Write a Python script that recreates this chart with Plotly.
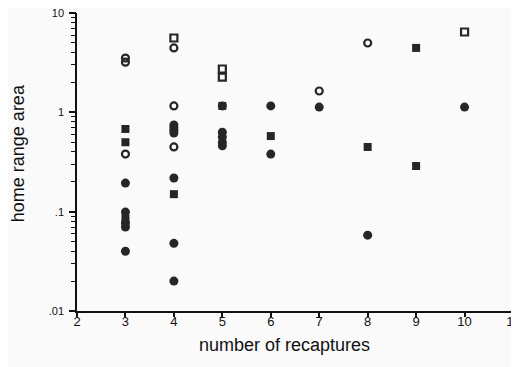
import plotly.graph_objects as go

# Data (x = number of recaptures, y = home range area)
filled_circle_x = [3, 3, 3, 3, 3, 4, 4, 4, 4, 4, 4, 4, 5, 5, 5, 5, 5, 6, 6, 7, 8, 10]
filled_circle_y = [0.194, 0.099, 0.077, 0.070, 0.040,
                   0.745, 0.70, 0.66, 0.62, 0.218, 0.048, 0.020,
                   1.16, 0.63, 0.565, 0.50, 0.46,
                   1.16, 0.38, 1.13, 0.058, 1.13]

open_circle_x = [3, 3, 3, 4, 4, 4, 7, 8]
open_circle_y = [3.52, 3.2, 0.38, 4.45, 1.16, 0.448, 1.64, 4.99]

filled_square_x = [3, 3, 3, 4, 5, 6, 8, 9, 9]
filled_square_y = [0.68, 0.50, 0.085, 0.150, 1.16, 0.577, 0.448, 4.45, 0.288]

open_square_x = [4, 5, 5, 10]
open_square_y = [5.6, 2.73, 2.26, 6.44]

x_ticks = [2, 3, 4, 5, 6, 7, 8, 9, 10, 11]
y_major = [0.01, 0.1, 1, 10]
y_major_text = [".01", ".1", "1", "10"]
y_minor = [0.02, 0.03, 0.04, 0.05, 0.06, 0.07, 0.08, 0.09,
           0.2, 0.3, 0.4, 0.5, 0.6, 0.7, 0.8, 0.9,
           2, 3, 4, 5, 6, 7, 8, 9]

y_all_vals = y_major + y_minor
y_all_text = y_major_text + [""] * len(y_minor)

ink = "#262626"
fig = go.Figure()
fig.add_trace(go.Scatter(x=filled_circle_x, y=filled_circle_y, mode="markers",
                         marker=dict(symbol="circle", size=9, color=ink, line=dict(width=0))))
fig.add_trace(go.Scatter(x=open_circle_x, y=open_circle_y, mode="markers",
                         marker=dict(symbol="circle-open", size=7, color=ink, line=dict(width=2.2, color=ink))))
fig.add_trace(go.Scatter(x=filled_square_x, y=filled_square_y, mode="markers",
                         marker=dict(symbol="square", size=8, color=ink, line=dict(width=0))))
fig.add_trace(go.Scatter(x=open_square_x, y=open_square_y, mode="markers",
                         marker=dict(symbol="square-open", size=7, color=ink, line=dict(width=2.2, color=ink))))
# overlay axis carrying the longer major ticks
fig.add_trace(go.Scatter(x=open_square_x, y=open_square_y, yaxis="y2", mode="markers",
                         marker=dict(opacity=0), hoverinfo="skip"))

font = "Liberation Sans, Arial, sans-serif"
# the page body adds an 8px offset, so the figure is sized/margined to compensate
fig.update_layout(
    width=511, height=359,
    margin=dict(l=69, r=6, t=5, b=56),
    paper_bgcolor="#fafafa", plot_bgcolor="#fafafa",
    showlegend=False,
    font=dict(family=font, color="#111111"),
    xaxis=dict(range=[2, 11], tickvals=x_ticks, ticktext=[str(v) for v in x_ticks],
               ticks="outside", ticklen=4, tickwidth=1.5,
               tickcolor="#111", showline=True, linecolor="#111", linewidth=1.5,
               showgrid=False, zeroline=False, tickfont=dict(size=13, color="#111"),
               ticklabelstandoff=-6, automargin=False, ticklabeloverflow="allow"),
    yaxis=dict(type="log", range=[-2, 1], tickmode="array", tickvals=y_all_vals, ticktext=y_all_text,
               ticks="outside", ticklen=4, tickwidth=1.2, tickcolor="#111",
               showline=True, linecolor="#111", linewidth=1.5,
               showgrid=False, zeroline=False, tickfont=dict(size=11, color="#111"),
               ticklabelstandoff=5, automargin=False, ticklabeloverflow="allow"),
    yaxis2=dict(type="log", range=[-2, 1], overlaying="y", side="left", tickmode="array",
                tickvals=y_major, ticks="outside", ticklen=7, tickwidth=1.5, tickcolor="#111",
                showticklabels=False, showline=False, showgrid=False, zeroline=False,
                automargin=False),
    annotations=[
        dict(text="number of recaptures", xref="paper", yref="paper", x=0.477, y=-0.114,
             xanchor="center", yanchor="middle", showarrow=False,
             font=dict(size=18, color="#111")),
        dict(text="home range area", xref="paper", yref="paper", x=-0.135, y=0.53,
             xanchor="center", yanchor="middle", textangle=-90, showarrow=False,
             font=dict(size=18, color="#111")),
    ],
)
fig.write_html("out.html")
